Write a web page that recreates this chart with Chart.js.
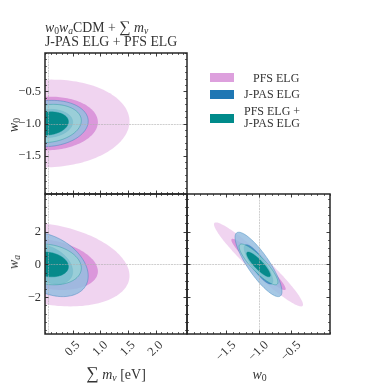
<!DOCTYPE html>
<html>
<head>
<meta charset="utf-8">
<script src="https://cdn.jsdelivr.net/npm/chart.js@4.4.0/dist/chart.umd.min.js"></script>
<style>
  html, body { margin: 0; padding: 0; background: #fff; }
  #wrap { position: relative; width: 373px; height: 386px; overflow: hidden;
          font-family: "Liberation Serif", "DejaVu Serif", serif; color: #333; }
  canvas { position: absolute; left: 0; top: 0; }
  .txt { position: absolute; white-space: nowrap; line-height: 14px; }
  .txt sub { font-size: 0.7em; vertical-align: -0.25em; line-height: 0; }
  .sw { position: absolute; width: 24px; height: 9px; }
  .lg { position: absolute; white-space: nowrap; font-size: 12px; line-height: 12px; }
</style>
</head>
<body>
<div id="wrap">
  <canvas id="c1" width="373" height="386"></canvas>
  <canvas id="c2" width="373" height="386"></canvas>
  <canvas id="c3" width="373" height="386"></canvas>

  <div class="txt" style="left:45px; top:20px; font-size:13.8px;"><i>w</i><sub>0</sub><i>w</i><sub><i>a</i></sub>CDM + <span style="font-size:1.15em">∑</span> <i>m</i><sub><i>ν</i></sub></div>
  <div class="txt" style="left:45px; top:35px; font-size:13.8px;">J-PAS ELG + PFS ELG</div>

  <div class="sw" style="left:210px; top:73px; background:#dda0dd;"></div>
  <div class="sw" style="left:210px; top:90px; background:#1f77b4;"></div>
  <div class="sw" style="left:210px; top:114px; background:#008b8b;"></div>
  <div class="lg" style="left:253px; top:72px;">PFS ELG</div>
  <div class="lg" style="left:244px; top:88px;">J-PAS ELG</div>
  <div class="lg" style="left:244px; top:105px;">PFS ELG +</div>
  <div class="lg" style="left:244px; top:117px;">J-PAS ELG</div>

  <div class="txt" style="left:13.5px; top:124.5px; font-size:14px; transform:translate(-50%,-50%) rotate(-90deg);"><i>w</i><sub>0</sub></div>
  <div class="txt" style="left:14px; top:262px; font-size:14px; transform:translate(-50%,-50%) rotate(-90deg);"><i>w</i><sub><i>a</i></sub></div>
  <div class="txt" style="left:116px; top:374px; font-size:14px; transform:translate(-50%,-50%);"><span style="font-size:1.25em">∑</span> <i>m</i><sub><i>ν</i></sub> [eV]</div>
  <div class="txt" style="left:259.5px; top:375px; font-size:14px; transform:translate(-50%,-50%);"><i>w</i><sub>0</sub></div>
</div>

<script>
// parameters: sum m_nu, w0, wa
const fiducial = [0.06, -1.0, 0.0];
const surveys = ['PFS ELG', 'J-PAS ELG', 'PFS ELG + J-PAS ELG'];

// marginal 1-sigma errors
const sigmaMnu = [0.59, 0.29, 0.24];
const sigmaW0 = [0.275, 0.145, 0.12];
const sigmaWa = [1.03, 0.79, 0.50];

// correlation coefficients
const corrMnuW0 = [0.05, 0.10, 0.15];
const corrMnuWa = [-0.27, -0.36, -0.18];
const corrW0Wa = [-0.955, -0.84, -0.87];

// sqrt(delta chi2) for 95% and 68% in 2D
const contourLevels = [2.49, 1.52];

// ticks
const mnuTicks = [0.5, 1.0, 1.5, 2.0];
const mnuTickLabels = ['0.5', '1.0', '1.5', '2.0'];
const w0Ticks = [-1.5, -1.0, -0.5];
const w0TickLabels = ['\u22121.5', '\u22121.0', '\u22120.5'];
const waTicks = [-2, 0, 2];
const waTickLabels = ['\u22122', '0', '2'];

const mnuRange = [0, 2.57];
const w0Range = [-2.1, 0.1];
const waRange = [-4.25, 4.3];

const sigmas = [sigmaMnu, sigmaW0, sigmaWa];
const corrs = { '0-1': corrMnuW0, '0-2': corrMnuWa, '1-2': corrW0Wa };
const ranges = [mnuRange, w0Range, waRange];
const ticks = [
  { at: mnuTicks, labels: mnuTickLabels, minor: 0.1 },
  { at: w0Ticks, labels: w0TickLabels, minor: 0.1 },
  { at: waTicks, labels: waTickLabels, minor: 0.5 }
];

// fill colours [95%, 68%] and edge for each survey
const fills = [
  ['rgba(221,160,221,0.45)', 'rgba(210,125,210,0.7)'],
  ['rgba(150,190,225,0.85)', 'rgba(50,125,190,0.7)'],
  ['rgba(150,218,212,0.65)', 'rgba(0,135,135,0.95)']
];
const edges = [null, 'rgba(31,119,180,0.55)', 'rgba(0,139,139,0.5)'];

const panels = [
  { id: 'c1', xi: 0, yi: 1, area: [45, 53, 187, 194], xLab: false, yLab: true },
  { id: 'c2', xi: 0, yi: 2, area: [45, 194, 187, 334], xLab: true, yLab: true },
  { id: 'c3', xi: 1, yi: 2, area: [187, 194, 330, 334], xLab: true, yLab: false }
];

const FRAME = '#262626';
const TICK_FONT = '12.5px "Liberation Serif", serif';

function ellipsePath(ctx, xs, ys, cx, cy, sx, sy, r, k) {
  const q = Math.sqrt(1 - r * r);
  ctx.beginPath();
  for (let i = 0; i <= 160; i++) {
    const t = i / 160 * 2 * Math.PI;
    const vx = cx + k * sx * Math.cos(t);
    const vy = cy + k * sy * (r * Math.cos(t) + q * Math.sin(t));
    const px = xs.getPixelForValue(vx);
    const py = ys.getPixelForValue(vy);
    if (i === 0) ctx.moveTo(px, py); else ctx.lineTo(px, py);
  }
  ctx.closePath();
}

function minorList(range, step) {
  const out = [];
  const start = Math.ceil(range[0] / step - 1e-6);
  const end = Math.floor(range[1] / step + 1e-6);
  for (let i = start; i <= end; i++) out.push(+(i * step).toFixed(4));
  return out;
}

function panelPlugin(p) {
  return {
    id: 'panel_' + p.id,
    beforeDatasetsDraw(chart) {
      const { ctx, chartArea: a } = chart;
      const xs = chart.scales.x, ys = chart.scales.y;
      const key = p.xi + '-' + p.yi;
      ctx.save();
      ctx.beginPath();
      ctx.rect(a.left, a.top, a.right - a.left, a.bottom - a.top);
      ctx.clip();
      surveys.forEach((name, s) => {
        contourLevels.forEach((k, l) => {
          ellipsePath(ctx, xs, ys, fiducial[p.xi], fiducial[p.yi],
            sigmas[p.xi][s], sigmas[p.yi][s], corrs[key][s], k);
          ctx.fillStyle = fills[s][l];
          ctx.fill();
          if (edges[s]) {
            ctx.strokeStyle = edges[s];
            ctx.lineWidth = 0.7;
            ctx.stroke();
          }
        });
      });
      // fiducial lines
      ctx.strokeStyle = 'rgba(175,175,175,0.6)';
      ctx.lineWidth = 1;
      ctx.setLineDash([2, 0.8]);
      const fx = Math.round(xs.getPixelForValue(fiducial[p.xi])) + 0.5;
      const fy = Math.round(ys.getPixelForValue(fiducial[p.yi])) + 0.5;
      ctx.beginPath();
      ctx.moveTo(fx, a.top); ctx.lineTo(fx, a.bottom);
      ctx.moveTo(a.left, fy); ctx.lineTo(a.right, fy);
      ctx.stroke();
      ctx.restore();
    },
    afterDraw(chart) {
      const { ctx, chartArea: a } = chart;
      const xs = chart.scales.x, ys = chart.scales.y;
      const tx = ticks[p.xi], ty = ticks[p.yi];
      ctx.save();
      ctx.strokeStyle = FRAME;
      // minor + major ticks, inward on all four sides
      const drawX = (v, len, lw) => {
        const x = Math.round(xs.getPixelForValue(v)) + 0.5;
        ctx.lineWidth = lw;
        ctx.beginPath();
        ctx.moveTo(x, a.bottom); ctx.lineTo(x, a.bottom - len);
        ctx.moveTo(x, a.top); ctx.lineTo(x, a.top + len);
        ctx.stroke();
      };
      const drawY = (v, len, lw) => {
        const y = Math.round(ys.getPixelForValue(v)) + 0.5;
        ctx.lineWidth = lw;
        ctx.beginPath();
        ctx.moveTo(a.left, y); ctx.lineTo(a.left + len, y);
        ctx.moveTo(a.right, y); ctx.lineTo(a.right - len, y);
        ctx.stroke();
      };
      minorList(ranges[p.xi], tx.minor).forEach(v => {
        if (!tx.at.some(m => Math.abs(m - v) < 1e-6)) drawX(v, 2, 0.7);
      });
      minorList(ranges[p.yi], ty.minor).forEach(v => {
        if (!ty.at.some(m => Math.abs(m - v) < 1e-6)) drawY(v, 2, 0.7);
      });
      tx.at.forEach(v => drawX(v, 3.5, 0.9));
      ty.at.forEach(v => drawY(v, 3.5, 0.9));

      // frame
      ctx.lineWidth = 1.5;
      ctx.strokeRect(a.left, a.top, a.right - a.left, a.bottom - a.top);

      // tick labels
      ctx.fillStyle = '#333';
      ctx.font = TICK_FONT;
      if (p.yLab) {
        ctx.textAlign = 'right';
        ctx.textBaseline = 'middle';
        ty.at.forEach((v, i) => {
          ctx.fillText(ty.labels[i], a.left - 4, ys.getPixelForValue(v) + 0.5);
        });
      }
      if (p.xLab) {
        ctx.textAlign = 'center';
        ctx.textBaseline = 'middle';
        tx.at.forEach((v, i) => {
          const w = ctx.measureText(tx.labels[i]).width;
          const box = (w + 9) / Math.SQRT2;
          ctx.save();
          ctx.translate(xs.getPixelForValue(v), a.bottom + 6 + box / 2);
          ctx.rotate(-Math.PI / 4);
          ctx.fillText(tx.labels[i], 0, 0);
          ctx.restore();
        });
      }
      ctx.restore();
    }
  };
}

panels.forEach(p => {
  const [l, t, r, b] = p.area;
  new Chart(document.getElementById(p.id), {
    type: 'scatter',
    data: {
      datasets: [{
        label: 'fiducial',
        data: [{ x: fiducial[p.xi], y: fiducial[p.yi] }],
        pointRadius: 0
      }]
    },
    options: {
      responsive: false,
      animation: false,
      devicePixelRatio: 1,
      events: [],
      layout: { autoPadding: false, padding: { left: l, top: t, right: 373 - r, bottom: 386 - b } },
      scales: {
        x: { type: 'linear', display: false, min: ranges[p.xi][0], max: ranges[p.xi][1] },
        y: { type: 'linear', display: false, min: ranges[p.yi][0], max: ranges[p.yi][1] }
      },
      plugins: { legend: { display: false }, tooltip: { enabled: false } }
    },
    plugins: [panelPlugin(p)]
  });
});
</script>
</body>
</html>
